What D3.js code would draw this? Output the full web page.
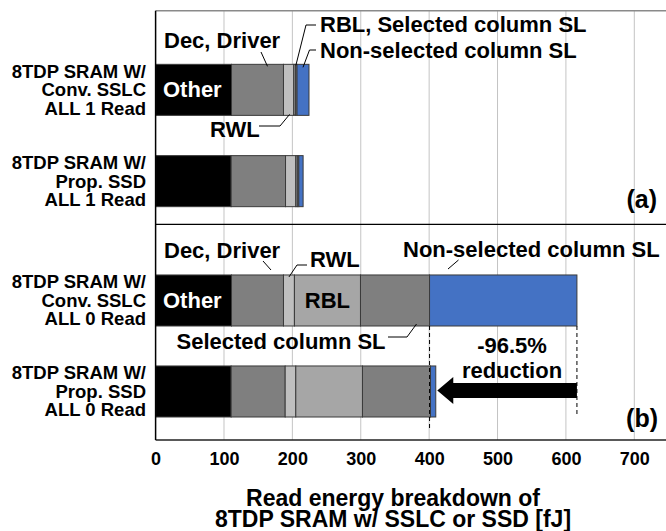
<!DOCTYPE html>
<html>
<head>
<meta charset="utf-8">
<script src="https://cdn.jsdelivr.net/npm/d3@7"></script>
<style>
  html, body { margin: 0; padding: 0; background: #fff; }
  svg { display: block; font-family: "Liberation Sans", Arial, sans-serif; font-weight: bold; }
</style>
</head>
<body>
<svg id="chart" width="666" height="531"></svg>
<script>
// ---------------- data ----------------
const categories = ["conv1", "prop1", "conv0", "prop0"];
const categoryLabels = [
  ["8TDP SRAM W/", "Conv. SSLC", "ALL 1 Read"],
  ["8TDP SRAM W/", "Prop. SSD", "ALL 1 Read"],
  ["8TDP SRAM W/", "Conv. SSLC", "ALL 0 Read"],
  ["8TDP SRAM W/", "Prop. SSD", "ALL 0 Read"]
];
const panels = ["(a)", "(b)"];
const segmentNames = ["Other", "Dec, Driver", "RWL", "RBL", "Selected column SL", "Non-selected column SL"];
const other      = [111, 110.5, 111, 110.5];
const decDriver  = [76, 79.5, 76, 79];
const rwl        = [15, 15, 16, 15.5];
const rbl        = [2.4, 2.2, 96.6, 97.5];
const selectedSL = [2.4, 2.2, 101, 99.5];
const nonSelSL   = [17.5, 6.3, 215.5, 7.7];
const xTicks = [0, 100, 200, 300, 400, 500, 600, 700];
const xTitle = ["Read energy breakdown of", "8TDP SRAM w/ SSLC or SSD [fJ]"];
const reductionText = ["-96.5%", "reduction"];

// ---------------- layout ----------------
const svg = d3.select("#chart");
const plotLeft = 155.6, plotRight = 666;
const topY = 10.7, midY = 224.3, bottomY = 440;
const x = d3.scaleLinear().domain([0, 700]).range([plotLeft, 634.3]);

const colors = ["#000000", "#7f7f7f", "#bfbfbf", "#a6a6a6", "#7f7f7f", "#4472c4"];

const yA = d3.scaleBand().domain(categories.slice(0, 2)).range([44.2, 226.8]).paddingInner(0.441).paddingOuter(0.2205);
const yB = d3.scaleBand().domain(categories.slice(2, 4)).range([254.9, 436.9]).paddingInner(0.441).paddingOuter(0.2205);
const yOf = c => (categories.indexOf(c) < 2 ? yA : yB);
const yPos = c => yOf(c)(c);
const bw = yA.bandwidth();

// table for stacking
const table = categories.map((c, i) => ({
  cat: c,
  "Other": other[i], "Dec, Driver": decDriver[i], "RWL": rwl[i], "RBL": rbl[i],
  "Selected column SL": selectedSL[i], "Non-selected column SL": nonSelSL[i]
}));
const stacked = d3.stack().keys(segmentNames)(table);

// grid lines
svg.append("g").selectAll("line").data(xTicks.filter(t => t > 0)).join("line")
  .attr("x1", d => x(d)).attr("x2", d => x(d))
  .attr("y1", topY).attr("y2", bottomY)
  .attr("stroke", "#c4c4c4").attr("stroke-width", 1);

// frame lines
svg.append("line").attr("x1", plotLeft).attr("x2", plotRight).attr("y1", topY).attr("y2", topY)
  .attr("stroke", "#8a8a8a").attr("stroke-width", 1.5);
svg.append("line").attr("x1", plotLeft).attr("x2", plotRight).attr("y1", midY).attr("y2", midY)
  .attr("stroke", "#000").attr("stroke-width", 1.2);

// bars
const segG = svg.append("g").selectAll("g").data(stacked).join("g")
  .attr("fill", (d, i) => colors[i]);
segG.selectAll("rect").data(d => d).join("rect")
  .attr("x", d => x(d[0]))
  .attr("width", d => x(d[1]) - x(d[0]))
  .attr("y", d => yPos(d.data.cat))
  .attr("height", bw)
  .attr("stroke", "#3a3a3a").attr("stroke-width", 1);

// axes
const xAxis = d3.axisBottom(x).tickValues(xTicks).tickSize(0).tickPadding(0).tickFormat(d3.format("d"));
const axG = svg.append("g").attr("transform", `translate(0,${bottomY})`).call(xAxis);
axG.select(".domain").attr("stroke", "#222").attr("stroke-width", 1.5).attr("d", `M${plotLeft},0H${plotRight}`);
axG.selectAll("text").attr("y", 25).attr("dy", 0).attr("font-size", 18).attr("font-weight", "bold")
  .attr("font-family", "'Liberation Sans', Arial, sans-serif").attr("fill", "#000");

svg.append("line").attr("x1", plotLeft).attr("x2", plotLeft).attr("y1", topY).attr("y2", bottomY)
  .attr("stroke", "#000").attr("stroke-width", 1.5);

// category labels
const catG = svg.append("g");
categories.forEach((c, i) => {
  const cy = yPos(c) + bw / 2;
  const t = catG.append("text").attr("text-anchor", "end").attr("font-size", 18.5);
  categoryLabels[i].forEach((ln, k) => {
    t.append("tspan").attr("x", 146).attr("y", cy + 6.5 + (k - 1) * 18.5).text(ln);
  });
});

// axis title
const tt = svg.append("text").attr("text-anchor", "middle").attr("font-size", 23);
xTitle.forEach((ln, k) => tt.append("tspan").attr("x", 393).attr("y", 506 + k * 21).text(ln));

// panel labels
svg.append("text").attr("x", 657).attr("y", 208).attr("text-anchor", "end").attr("font-size", 25).text(panels[0]);
svg.append("text").attr("x", 658).attr("y", 427).attr("text-anchor", "end").attr("font-size", 25).text(panels[1]);

// annotations
const ann = svg.append("g").attr("font-size", 22);
function label(txt, px, py, opts = {}) {
  return ann.append("text").attr("x", px).attr("y", py)
    .attr("text-anchor", opts.anchor || "start").attr("fill", opts.fill || "#000").text(txt);
}
function leader(pts) {
  ann.append("path").attr("d", d3.line()(pts)).attr("fill", "none").attr("stroke", "#000").attr("stroke-width", 1);
}
const cum = (i, k) => stacked[k][i][1];
const start = (i, k) => stacked[k][i][0];

// panel (a)
const y1 = yPos("conv1");
label("Other", 163, y1 + bw / 2 + 7.5, { fill: "#fff" });
label("Dec, Driver", 164, 48);
leader([[261, 52], [x((start(0,1) + cum(0,1)) / 2) + 10, y1 + 2]]);
label("RBL, Selected column SL", 320, 32);
leader([[316, 25], [306, 25], [x(cum(0,3)) + 0.5, y1 + 1]]);
label("Non-selected column SL", 320, 58);
leader([[316, 50], [309.5, 50], [x((start(0,5) + cum(0,5)) / 2), y1 + 3]]);
label("RWL", 210, 137);
leader([[259, 126], [280, 126], [x((start(0,2) + cum(0,2)) / 2) + 1, y1 + bw - 1]]);

// panel (b)
const y3 = yPos("conv0");
label("Other", 163, y3 + bw / 2 + 7.5, { fill: "#fff" });
label("RBL", x((start(2,3) + cum(2,3)) / 2), y3 + bw / 2 + 7.5, { anchor: "middle" });
label("Dec, Driver", 164, 258);
leader([[263, 261], [271, 270]]);
label("RWL", 310, 267);
leader([[307, 265], [297, 265], [x((start(2,2) + cum(2,2)) / 2), y3 + 2]]);
label("Non-selected column SL", 403, 257);
leader([[458.5, 260], [448, 269]]);
label("Selected column SL", 176.5, 348.5);
leader([[388, 337], [407, 337], [416.5, y3 + bw - 2]]);

// dashed guide lines
const y4 = yPos("prop0");
svg.append("line").attr("x1", x(cum(2,4))).attr("x2", x(cum(2,4)))
  .attr("y1", y3 + bw).attr("y2", 429)
  .attr("stroke", "#000").attr("stroke-width", 1).attr("stroke-dasharray", "4,3");
svg.append("line").attr("x1", x(cum(2,5))).attr("x2", x(cum(2,5)))
  .attr("y1", y3 + bw).attr("y2", y4 + bw)
  .attr("stroke", "#000").attr("stroke-width", 1).attr("stroke-dasharray", "4,3");

// arrow
const ay = y4 + bw / 2 - 1;
const tipX = x(cum(3,5)) + 1.5, tailX = x(cum(2,5));
svg.append("path")
  .attr("d", `M${tailX},${ay - 7.5} H${tipX + 16} V${ay - 13.5} L${tipX},${ay} L${tipX + 16},${ay + 13.5} V${ay + 7.5} H${tailX} Z`)
  .attr("fill", "#000");
const rt = svg.append("text").attr("text-anchor", "middle").attr("font-size", 22);
reductionText.forEach((ln, k) => rt.append("tspan").attr("x", 512).attr("y", 353 + k * 25).text(ln));
</script>
</body>
</html>
